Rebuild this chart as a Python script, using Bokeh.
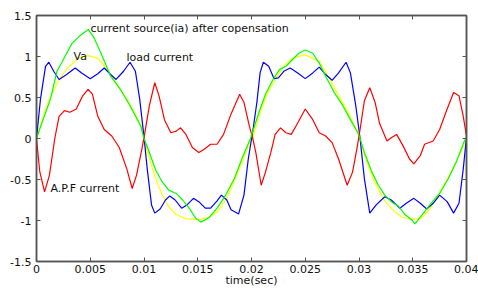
from bokeh.plotting import figure
from bokeh.models import LinearAxis, FixedTicker, Label, Range1d
from bokeh.embed import file_html
from bokeh.resources import INLINE

# ---- data ----
va_t = [0, 0.00043, 0.0012, 0.0021, 0.0029, 0.0039, 0.0048, 0.0057, 0.0066, 0.0076, 0.0084, 0.0091, 0.0099, 0.0100,
        0.0105, 0.0111, 0.0117, 0.0123, 0.0130, 0.0140, 0.0151, 0.0160, 0.0168, 0.0176, 0.0184, 0.0191, 0.0199, 0.0201,
        0.0207, 0.0215, 0.0223, 0.0230, 0.0238, 0.0250, 0.0263, 0.0273, 0.0281, 0.0289, 0.0296, 0.0301,
        0.0305, 0.0312, 0.0318, 0.0324, 0.0332, 0.0340, 0.0350, 0.0358, 0.0366, 0.0374, 0.0382, 0.0390, 0.0397, 0.0400]
va_v = [0, 0.19, 0.48, 0.72, 0.86, 0.98, 1.01, 0.98, 0.84, 0.64, 0.48, 0.32, 0.11, 0.0,
        -0.25, -0.49, -0.69, -0.83, -0.93, -0.98, -0.99, -0.96, -0.90, -0.75, -0.52, -0.30, -0.03, 0.0,
        0.27, 0.56, 0.74, 0.88, 0.98, 1.02, 0.94, 0.72, 0.52, 0.34, 0.15, 0.0,
        -0.20, -0.45, -0.62, -0.76, -0.88, -0.96, -0.99, -0.97, -0.86, -0.68, -0.50, -0.30, -0.10, 0.0]

src_t = [0, 0.00053, 0.0013, 0.0019, 0.0024, 0.0033, 0.0041, 0.0048, 0.0053, 0.0060, 0.0069, 0.0078, 0.0087, 0.0097, 0.0100,
         0.0105, 0.0111, 0.0117, 0.0123, 0.0130, 0.0136, 0.0142, 0.0148, 0.0153, 0.0161, 0.0168, 0.0176, 0.0184, 0.0191, 0.0199,
         0.0207, 0.0213, 0.0220, 0.0226, 0.0232, 0.0238, 0.0244, 0.0250, 0.0257, 0.0263, 0.0269, 0.0277, 0.0285, 0.0292, 0.0299, 0.0301,
         0.0305, 0.0312, 0.0318, 0.0324, 0.0330, 0.0337, 0.0343, 0.0349, 0.0352, 0.0360, 0.0367, 0.0375, 0.0383, 0.0391, 0.0398, 0.0400]
src_v = [0, 0.20, 0.48, 0.82, 0.94, 1.16, 1.26, 1.33, 1.24, 1.04, 0.76, 0.60, 0.40, 0.15, 0.0,
         -0.17, -0.39, -0.53, -0.63, -0.67, -0.75, -0.85, -0.97, -1.02, -0.96, -0.85, -0.69, -0.49, -0.25, 0.0,
         0.32, 0.54, 0.72, 0.84, 0.88, 0.96, 1.04, 1.08, 1.04, 0.92, 0.76, 0.56, 0.40, 0.23, 0.07, 0.0,
         -0.17, -0.41, -0.57, -0.69, -0.77, -0.83, -0.93, -0.99, -1.04, -0.91, -0.79, -0.67, -0.49, -0.27, -0.03, 0.02]

load_t = [0, 0.00037, 0.00084, 0.00115, 0.0016, 0.0021, 0.0028, 0.0036, 0.0042, 0.0050, 0.0057, 0.0063, 0.0069, 0.0074, 0.0081, 0.0087, 0.0092, 0.0096, 0.0100,
          0.0103, 0.0107, 0.0110, 0.0115, 0.0120, 0.0124, 0.0129, 0.0135, 0.0140, 0.0146, 0.0151, 0.0157, 0.0162, 0.0168, 0.0172, 0.0177, 0.0181, 0.0188, 0.0193, 0.0197, 0.0201,
          0.0205, 0.0208, 0.0211, 0.0216, 0.0221, 0.0225, 0.0230, 0.0236, 0.0243, 0.0250, 0.0257, 0.0263, 0.0269, 0.0275, 0.0281, 0.0288, 0.0292, 0.0297, 0.0301,
          0.0305, 0.0310, 0.0316, 0.0324, 0.0330, 0.0338, 0.0344, 0.0351, 0.0357, 0.0363, 0.0369, 0.0375, 0.0382, 0.0388, 0.0393, 0.0397, 0.0400]
load_v = [0, 0.48, 0.88, 0.93, 0.82, 0.72, 0.78, 0.86, 0.80, 0.73, 0.79, 0.86, 0.78, 0.72, 0.82, 0.93, 0.82, 0.48, 0.02,
          -0.37, -0.81, -0.91, -0.86, -0.75, -0.70, -0.75, -0.85, -0.81, -0.73, -0.77, -0.85, -0.85, -0.76, -0.69, -0.75, -0.87, -0.92, -0.69, -0.25, 0.07,
          0.44, 0.80, 0.93, 0.88, 0.73, 0.74, 0.82, 0.86, 0.80, 0.73, 0.80, 0.87, 0.78, 0.71, 0.80, 0.93, 0.80, 0.40, 0.0,
          -0.49, -0.91, -0.81, -0.71, -0.75, -0.85, -0.79, -0.73, -0.79, -0.86, -0.79, -0.69, -0.77, -0.91, -0.79, -0.37, 0.02]

apf_t = [0, 0.0003, 0.00075, 0.0012, 0.0017, 0.0021, 0.0026, 0.0031, 0.0037, 0.0043, 0.0048, 0.0052, 0.0057, 0.0063, 0.0070, 0.0077, 0.0084, 0.0089, 0.0093, 0.0098,
         0.0100, 0.0105, 0.0110, 0.0114, 0.0119, 0.0125, 0.0130, 0.0134, 0.0139, 0.0145, 0.0151, 0.0156, 0.0162, 0.0168, 0.0174, 0.0181, 0.0189, 0.0193, 0.0198,
         0.0201, 0.0204, 0.0209, 0.0213, 0.0218, 0.0222, 0.0227, 0.0232, 0.0237, 0.0243, 0.0250, 0.0257, 0.0263, 0.0269, 0.0275, 0.0281, 0.0289, 0.0294, 0.0298,
         0.0301, 0.0305, 0.0310, 0.0315, 0.0319, 0.0326, 0.0330, 0.0335, 0.0341, 0.0347, 0.0351, 0.0357, 0.0361, 0.0369, 0.0375, 0.0382, 0.0388, 0.0393, 0.0397, 0.0400]
apf_v = [0, -0.40, -0.65, -0.45, 0.0, 0.27, 0.34, 0.32, 0.36, 0.52, 0.60, 0.54, 0.27, 0.11, 0.03, -0.11, -0.37, -0.61, -0.45, -0.13,
         0.01, 0.40, 0.68, 0.52, 0.23, 0.07, 0.09, 0.13, 0.05, -0.11, -0.17, -0.13, -0.07, -0.07, 0.05, 0.30, 0.54, 0.44, 0.15,
         0.01, -0.17, -0.57, -0.41, -0.17, 0.05, 0.13, 0.07, 0.05, 0.19, 0.36, 0.23, 0.07, 0.03, -0.05, -0.25, -0.57, -0.41, -0.13,
         0.11, 0.46, 0.62, 0.44, 0.19, -0.03, 0.01, 0.05, -0.09, -0.25, -0.31, -0.21, -0.07, -0.03, 0.11, 0.36, 0.56, 0.52, 0.27, 0.03]

x_ticks = [0, 0.005, 0.01, 0.015, 0.02, 0.025, 0.03, 0.035, 0.04]
x_tick_labels = ["0", "0.005", "0.01", "0.015", "0.02", "0.025", "0.03", "0.035", "0.04"]
y_ticks = [-1.5, -1, -0.5, 0, 0.5, 1, 1.5]
y_tick_labels = ["-1.5", "-1", "-0.5", "0", "0.5", "1", "1.5"]

annotations = [
    ("current source(ia) after copensation", 0.00502, 1.343),
    ("Va", 0.00344, 0.994),
    ("load current", 0.00837, 0.988),
    ("A.P.F current", 0.00130, -0.608),
]
x_label = "time(sec)"

FONT = "DejaVu Sans"
AX = "#555555"

p = figure(width=478, height=289, output_backend="svg", toolbar_location=None,
           x_range=Range1d(0, 0.04), y_range=Range1d(-1.5, 1.5),
           min_border_left=36, min_border_right=12, min_border_top=15, min_border_bottom=25)
p.background_fill_color = "white"
p.border_fill_color = "white"
p.outline_line_color = AX
p.outline_line_width = 1.5
p.xgrid.visible = False
p.ygrid.visible = False

def style(ax, ticks, labels, show):
    ax.ticker = FixedTicker(ticks=ticks)
    ax.major_tick_in = 4
    ax.major_tick_out = 0
    ax.minor_tick_line_color = None
    ax.axis_line_color = AX
    ax.axis_line_width = 1.5
    ax.major_tick_line_color = AX
    ax.major_label_text_font = FONT
    ax.major_label_text_color = "#111111"
    ax.major_label_text_font_size = "11px"
    if show:
        ax.major_label_overrides = {t: l for t, l in zip(ticks, labels)}
        ax.major_label_standoff = 3
    else:
        ax.major_label_overrides = {t: "" for t in ticks}
        ax.major_label_standoff = 0

style(p.xaxis[0], x_ticks, x_tick_labels, True)
style(p.yaxis[0], y_ticks, y_tick_labels, True)
p.yaxis[0].major_label_standoff = 5
p.xaxis[0].axis_label = x_label
p.xaxis[0].axis_label_text_font = FONT
p.xaxis[0].axis_label_text_font_size = "11px"
p.xaxis[0].axis_label_text_font_style = "normal"
p.xaxis[0].axis_label_text_color = "#111111"
p.xaxis[0].axis_label_standoff = -2

top = LinearAxis()
right = LinearAxis()
p.add_layout(top, "above")
p.add_layout(right, "right")
style(top, x_ticks, x_tick_labels, False)
style(right, y_ticks, y_tick_labels, False)

lw = 1.2
p.line(va_t, va_v, line_color="#ffff00", line_width=lw)
p.line(load_t, load_v, line_color="#0000ff", line_width=lw)
p.line(apf_t, apf_v, line_color="#ff0000", line_width=lw)
p.line(src_t, src_v, line_color="#00ff00", line_width=lw)

for txt, tx, ty in annotations:
    p.add_layout(Label(x=tx, y=ty, text=txt, text_font=FONT, text_font_size="11px",
                       text_baseline="middle", text_align="left", text_color="#111111"))

open("out.html", "w").write(file_html(p, INLINE))
